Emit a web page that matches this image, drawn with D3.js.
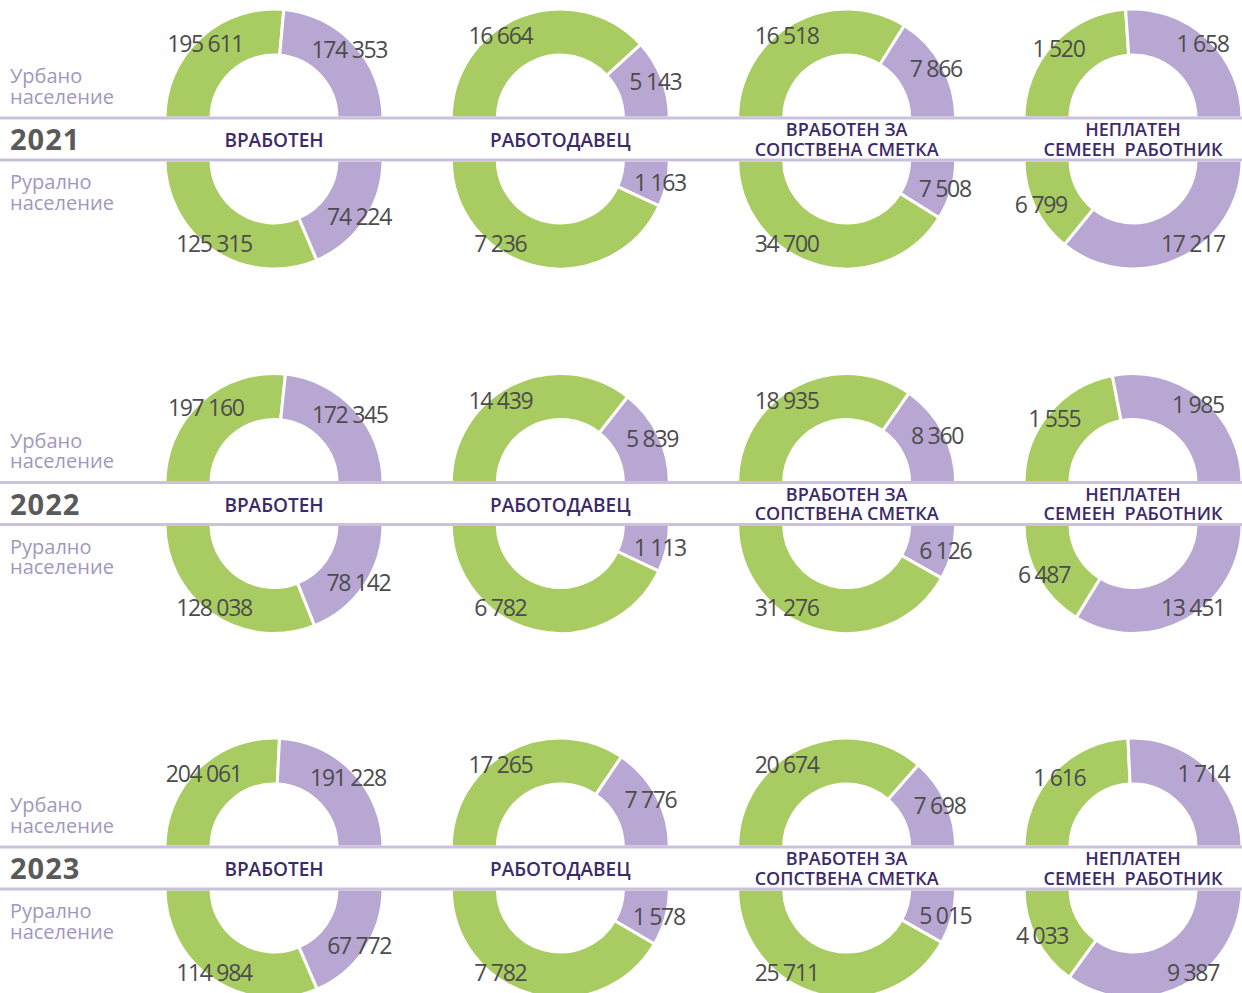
<!DOCTYPE html>
<html>
<head>
<meta charset="utf-8">
<script src="https://cdn.jsdelivr.net/npm/d3@7"></script>
<style>
  html, body { margin: 0; padding: 0; background: #fff; }
  svg { display: block; }
</style>
</head>
<body>
<svg id="chart" width="1242" height="993"></svg>
<script>
// ---- DATA ----
const years = ["2021", "2022", "2023"];
const categories = [
  "ВРАБОТЕН",
  "РАБОТОДАВЕЦ",
  "ВРАБОТЕН ЗА\nСОПСТВЕНА СМЕТКА",
  "НЕПЛАТЕН\nСЕМЕЕН  РАБОТНИК"
];
const urbanLabel = ["Урбано", "население"];
const ruralLabel = ["Рурално", "население"];

// green series (urban / rural), rows = years, columns = categories
const urbanGreen = [
  [195611, 16664, 16518, 1520],
  [197160, 14439, 18935, 1555],
  [204061, 17265, 20674, 1616]
];
// purple series
const urbanPurple = [
  [174353, 5143, 7866, 1658],
  [172345, 5839, 8360, 1985],
  [191228, 7776, 7698, 1714]
];
const ruralGreen = [
  [125315, 7236, 34700, 6799],
  [128038, 6782, 31276, 6487],
  [114984, 7782, 25711, 4033]
];
const ruralPurple = [
  [74224, 1163, 7508, 17217],
  [78142, 1113, 6126, 13451],
  [67772, 1578, 5015, 9387]
];

// ---- STYLE ----
const GREEN = "#a9cc62";
const PURPLE = "#b8a7d2";
const BAND_LINE = "#cbc1dc";
const CAT_COLOR = "#3d2a6a";
const NUM_COLOR = "#4c4c4c";
const SIDE_COLOR = "#a396be";
const FONT = "'Open Sans', 'Noto Sans', sans-serif";

const W = 1242, H = 993;
const R_OUT = 109, R_IN = 63, R_LAB = 102;
const BAND_H = 42;

const svg = d3.select("#chart");

const x = d3.scalePoint().domain(categories).range([274, 1133]);
const yBand = d3.scalePoint().domain(years).range([118, 847]);

const fmt = d3.formatLocale({decimal: ",", thousands: " ", grouping: [3], currency: ["", ""]}).format(",d");

const arc = d3.arc().innerRadius(R_IN).outerRadius(R_OUT);
const pieTop = d3.pie().sort(null).value(d => d.v).startAngle(-Math.PI / 2).endAngle(Math.PI / 2);
const pieBot = d3.pie().sort(null).value(d => d.v).startAngle(Math.PI / 2).endAngle(3 * Math.PI / 2);

const deg = Math.PI / 180;
function labelAngle(a) {
  // keep label at least 36deg away from the vertical axis
  const mid = (a.startAngle + a.endAngle) / 2;
  let m = mid;
  const min = 36 * deg;
  if (m < 0 && m > -min) m = -min;
  if (m >= 0 && m < min) m = min;
  if (m > Math.PI - min && m <= Math.PI) m = Math.PI - min;
  if (m > Math.PI && m < Math.PI + min) m = Math.PI + min;
  return m;
}

const gDonuts = svg.append("g");
const gBands = svg.append("g");
const gText = svg.append("g");

years.forEach((yr, yi) => {
  const top = yBand(yr);
  const bot = top + BAND_H;

  categories.forEach((cat, ci) => {
    const cx = x(cat);
    const topData = pieTop([
      {v: urbanGreen[yi][ci], c: GREEN},
      {v: urbanPurple[yi][ci], c: PURPLE}
    ]);
    const botData = pieBot([
      {v: ruralPurple[yi][ci], c: PURPLE},
      {v: ruralGreen[yi][ci], c: GREEN}
    ]);
    [[topData, top], [botData, bot]].forEach(([arcs, cy]) => {
      const g = gDonuts.append("g").attr("transform", `translate(${cx},${cy})`);
      g.selectAll("path").data(arcs).join("path")
        .attr("d", arc)
        .attr("fill", d => d.data.c)
        .attr("stroke", "#fff")
        .attr("stroke-width", 3);
      arcs.forEach(a => {
        const m = labelAngle(a);
        gText.append("text")
          .attr("x", cx + R_LAB * Math.sin(m))
          .attr("y", cy - R_LAB * Math.cos(m))
          .attr("text-anchor", "middle")
          .attr("dominant-baseline", "central")
          .attr("font-family", FONT)
          .attr("font-size", 23)
          .attr("letter-spacing", "-1.3px")
          .attr("fill", NUM_COLOR)
          .text(fmt(a.data.v));
      });
    });
  });

  // band
  gBands.append("rect").attr("x", 0).attr("y", top).attr("width", W).attr("height", BAND_H).attr("fill", "#fff");
  [top, bot].forEach(yy => {
    gBands.append("line").attr("x1", 0).attr("x2", W).attr("y1", yy).attr("y2", yy)
      .attr("stroke", BAND_LINE).attr("stroke-width", 3);
  });

  // year
  gBands.append("text")
    .attr("x", 10).attr("y", top + 32)
    .attr("font-family", FONT).attr("font-weight", 700).attr("font-size", 29)
    .attr("letter-spacing", "1px")
    .attr("fill", "#5a5a5a")
    .text(yr);

  // side labels
  urbanLabel.forEach((t, i) => {
    gBands.append("text").attr("x", 10).attr("y", top - 35 + i * 20.5)
      .attr("font-family", FONT).attr("font-size", 20).attr("fill", SIDE_COLOR).text(t);
  });
  ruralLabel.forEach((t, i) => {
    gBands.append("text").attr("x", 10).attr("y", bot + 29 + i * 20.5)
      .attr("font-family", FONT).attr("font-size", 20).attr("fill", SIDE_COLOR).text(t);
  });

  // category names
  categories.forEach(cat => {
    const lines = cat.split("\n");
    const t = gBands.append("text")
      .attr("text-anchor", "middle")
      .attr("font-family", FONT).attr("font-weight", 600)
      .attr("font-size", lines.length === 1 ? 19 : 18)
      .attr("fill", CAT_COLOR)
      .style("white-space", "pre");
    if (lines.length === 1) {
      t.append("tspan").attr("x", x(cat)).attr("y", top + 29).text(lines[0]);
    } else {
      lines.forEach((l, i) => {
        t.append("tspan").attr("x", x(cat)).attr("y", top + 18 + i * 19.5).text(l);
      });
    }
  });
});
</script>
</body>
</html>
